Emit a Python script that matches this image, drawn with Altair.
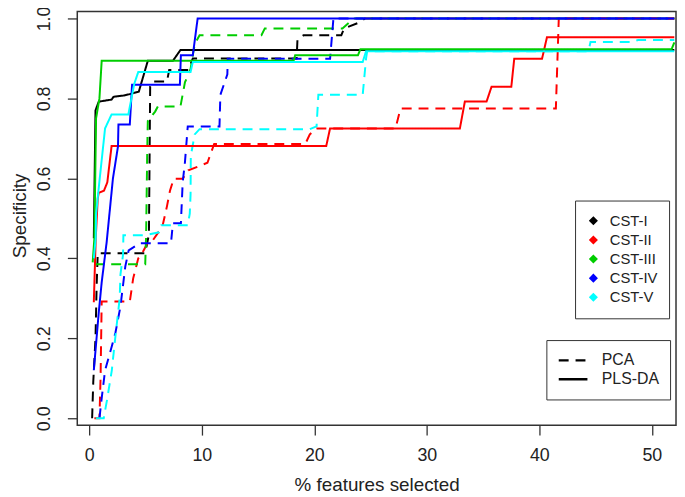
import altair as alt
import pandas as pd

series_names = ["CST-I", "CST-II", "CST-III", "CST-IV", "CST-V"]
methods = ["PCA", "PLS-DA"]
colors = ["#000000", "#FF0000", "#00CD00", "#0000FF", "#00FFFF"]

# % features selected (x) and specificity (y)
cst1_pca_x = [0.25, 0.35, 0.55, 0.65, 0.75, 4.97, 5.30, 5.41, 5.60, 6.90, 7.10, 8.80, 9.20, 18.43, 18.50, 19.04, 22.40, 22.65, 24.00, 24.50, 52.0]
cst1_pca_y = [0.00, 0.09, 0.20, 0.33, 0.413, 0.413, 0.46, 0.83, 0.842, 0.842, 0.871, 0.871, 0.90, 0.90, 0.946, 0.958, 0.958, 0.975, 0.99, 1.0, 1.0]
cst1_pls_x = [0.40, 0.55, 0.84, 1.98, 2.15, 3.00, 3.50, 4.40, 5.20, 7.43, 8.10, 52.0]
cst1_pls_y = [0.45, 0.77, 0.792, 0.797, 0.804, 0.807, 0.810, 0.817, 0.894, 0.894, 0.921, 0.921]

cst2_pca_x = [0.45, 0.90, 1.00, 1.10, 3.60, 3.90, 4.35, 4.70, 5.20, 5.67, 6.50, 6.90, 7.17, 7.50, 8.30, 8.80, 10.50, 11.10, 19.20, 19.60, 20.20, 27.22, 27.66, 41.47, 41.73, 52.0]
cst2_pca_y = [0.00, 0.00, 0.10, 0.292, 0.292, 0.35, 0.40, 0.413, 0.44, 0.446, 0.48, 0.53, 0.569, 0.599, 0.599, 0.62, 0.639, 0.686, 0.686, 0.71, 0.725, 0.725, 0.775, 0.775, 1.0, 1.0]
cst2_pls_x = [0.40, 0.57, 0.75, 0.84, 1.30, 1.60, 1.85, 1.98, 21.06, 21.40, 32.94, 33.38, 35.31, 35.75, 37.51, 37.77, 40.24, 40.68, 52.0]
cst2_pls_y = [0.29, 0.45, 0.55, 0.564, 0.569, 0.59, 0.65, 0.681, 0.681, 0.725, 0.725, 0.792, 0.792, 0.829, 0.829, 0.899, 0.899, 0.953, 0.953]

cst3_pca_x = [0.45, 4.97, 5.05, 5.15, 5.20, 5.85, 6.10, 8.10, 8.50, 9.00, 9.37, 9.80, 15.30, 15.60, 22.50, 23.50, 52.0]
cst3_pca_y = [0.385, 0.385, 0.46, 0.67, 0.743, 0.767, 0.78, 0.78, 0.84, 0.874, 0.936, 0.958, 0.958, 0.975, 0.975, 1.0, 1.0]
cst3_pls_x = [0.30, 0.45, 0.60, 0.90, 1.10, 18.16, 18.30, 23.88, 24.10, 51.76, 52.0]
cst3_pls_y = [0.39, 0.45, 0.75, 0.80, 0.894, 0.894, 0.908, 0.908, 0.923, 0.923, 0.94]

cst4_pca_x = [0.90, 1.10, 1.40, 1.70, 2.00, 2.33, 2.77, 3.20, 3.50, 4.50, 7.26, 7.43, 8.14, 8.30, 8.50, 8.75, 11.57, 11.65, 12.27, 12.30, 21.40, 21.70, 52.0]
cst4_pca_y = [0.00, 0.05, 0.12, 0.15, 0.18, 0.215, 0.28, 0.38, 0.42, 0.438, 0.438, 0.488, 0.488, 0.59, 0.64, 0.73, 0.73, 0.809, 0.86, 0.899, 0.899, 1.0, 1.0]
cst4_pls_x = [0.40, 0.84, 1.10, 1.54, 2.10, 2.55, 2.59, 3.60, 3.80, 8.05, 8.14, 9.20, 9.63, 52.0]
cst4_pls_y = [0.12, 0.265, 0.34, 0.44, 0.60, 0.68, 0.735, 0.735, 0.834, 0.834, 0.908, 0.908, 1.0, 1.0]

cst5_pca_x = [0.57, 1.28, 1.60, 2.00, 2.30, 2.70, 2.77, 3.00, 3.03, 4.90, 6.20, 6.40, 8.75, 8.93, 9.00, 9.02, 9.37, 9.80, 19.60, 20.20, 20.36, 24.30, 24.60, 24.70, 44.37, 44.55, 48.33, 48.77, 52.0]
cst5_pca_y = [0.00, 0.00, 0.05, 0.12, 0.20, 0.30, 0.36, 0.41, 0.458, 0.458, 0.465, 0.483, 0.483, 0.512, 0.56, 0.656, 0.71, 0.723, 0.723, 0.73, 0.809, 0.809, 0.90, 0.918, 0.918, 0.941, 0.941, 0.946, 0.946]
cst5_pls_x = [0.40, 0.57, 0.60, 0.84, 1.40, 1.98, 3.47, 4.00, 4.35, 9.00, 9.20, 24.30, 24.60, 52.0]
cst5_pls_y = [0.40, 0.45, 0.51, 0.577, 0.725, 0.76, 0.76, 0.837, 0.866, 0.866, 0.891, 0.891, 0.918, 0.918]

x_ticks = [0, 10, 20, 30, 40, 50]
y_ticks = [0.0, 0.2, 0.4, 0.6, 0.8, 1.0]

curves = [
    ("CST-I", "PCA", cst1_pca_x, cst1_pca_y),
    ("CST-II", "PCA", cst2_pca_x, cst2_pca_y),
    ("CST-III", "PCA", cst3_pca_x, cst3_pca_y),
    ("CST-IV", "PCA", cst4_pca_x, cst4_pca_y),
    ("CST-V", "PCA", cst5_pca_x, cst5_pca_y),
    ("CST-I", "PLS-DA", cst1_pls_x, cst1_pls_y),
    ("CST-II", "PLS-DA", cst2_pls_x, cst2_pls_y),
    ("CST-III", "PLS-DA", cst3_pls_x, cst3_pls_y),
    ("CST-IV", "PLS-DA", cst4_pls_x, cst4_pls_y),
    ("CST-V", "PLS-DA", cst5_pls_x, cst5_pls_y),
]

rows = []
for k, (s, m, xs, ys) in enumerate(curves):
    for i, (xv, yv) in enumerate(zip(xs, ys)):
        rows.append({"series": s, "method": m, "x": xv, "y": yv, "i": i, "grp": k})
df = pd.DataFrame(rows)

FONT = "Liberation Sans"
TXT = "#222222"

chart = alt.Chart(df).mark_line(strokeWidth=2, clip=True, strokeCap="butt").encode(
    x=alt.X("x:Q",
            scale=alt.Scale(domain=[-1.07, 52.15], nice=False, zero=False),
            axis=alt.Axis(values=x_ticks, title="% features selected", format="d",
                          labelFontSize=18, labelPadding=26, labelBaseline="alphabetic",
                          titleFontSize=19, titleY=66, titleBaseline="alphabetic")),
    y=alt.Y("y:Q",
            scale=alt.Scale(domain=[-0.0173, 1.0173], nice=False, zero=False),
            axis=alt.Axis(values=y_ticks, title="Specificity", format=".1f",
                          labelFontSize=18, labelAngle=270, labelAlign="center",
                          labelBaseline="alphabetic", labelPadding=18,
                          titleFontSize=19, titleAngle=270, titleX=-52, titleY=206,
                          titleAlign="center", titleBaseline="alphabetic")),
    color=alt.Color("series:N",
                    scale=alt.Scale(domain=series_names, range=colors),
                    legend=alt.Legend(title=None, orient="none", legendX=503, legendY=191,
                                      symbolType="diamond", symbolSize=18, symbolStrokeWidth=3.5,
                                      labelFontSize=15, labelFont=FONT, labelColor=TXT,
                                      padding=11, rowPadding=0.3, clipHeight=19, labelOffset=9,
                                      strokeColor="#333333", fillColor="white")),
    strokeDash=alt.StrokeDash("method:N",
                              scale=alt.Scale(domain=methods, range=[[10, 7], [1, 0]]),
                              legend=alt.Legend(title=None, orient="none", legendX=474, legendY=332,
                                                symbolType="stroke", symbolSize=841, symbolStrokeWidth=2.5,
                                                symbolStrokeColor="black",
                                                labelFontSize=16, labelFont=FONT, labelColor=TXT,
                                                padding=11, rowPadding=0, clipHeight=19, labelOffset=13,
                                                strokeColor="#333333", fillColor="white")),
    detail="grp:N",
    order=alt.Order("i:Q"),
).properties(
    width=605, height=418,
    autosize=alt.AutoSizeParams(type="none"),
    padding={"left": 70, "top": 1, "right": 1, "bottom": 69},
).configure_view(
    stroke="#333333", strokeWidth=1.5
).configure_axis(
    grid=False, domain=False, tickSize=10, tickColor="#333333", tickWidth=1.3,
    labelFont=FONT, titleFont=FONT, labelColor=TXT, titleColor=TXT, titleFontWeight="normal"
)

chart.save("out.html", embed_options={"renderer": "svg", "actions": False})
